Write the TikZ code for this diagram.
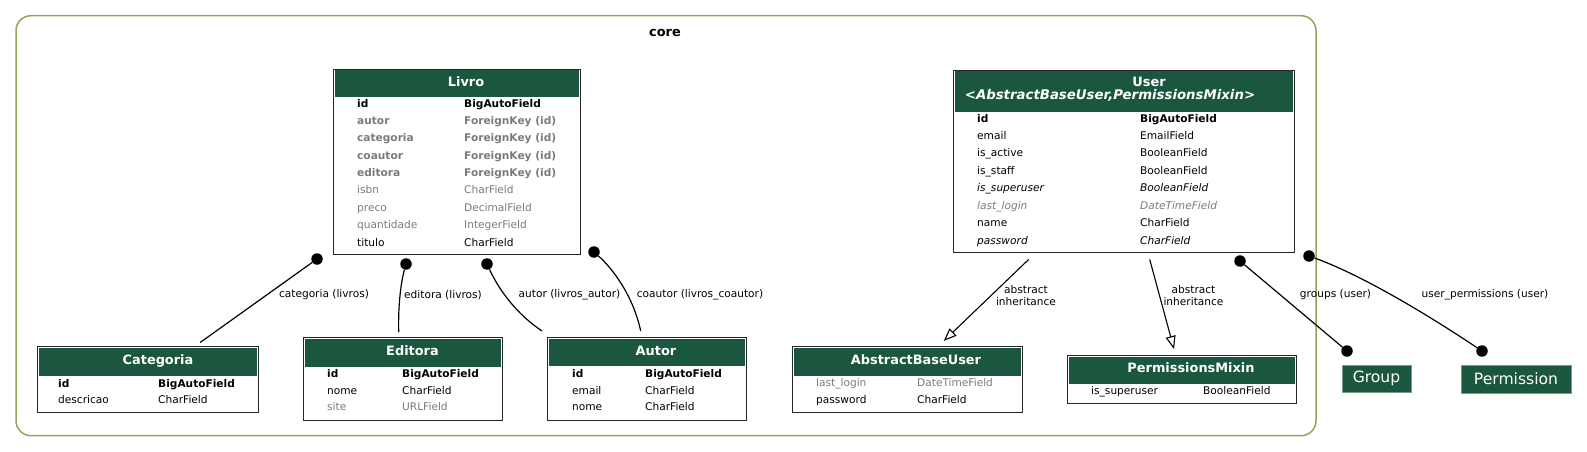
\documentclass[tikz,border=0pt]{standalone}
\usepackage{fontspec}
\setmainfont{DejaVu Sans}
\usetikzlibrary{arrows.meta,calc}
\definecolor{hdrgreen}{HTML}{1B563F}
\definecolor{fgray}{HTML}{7B7B7B}
\definecolor{clustercol}{HTML}{8DA758}
\definecolor{tblborder}{HTML}{262626}
\newcommand\fldfont{\fontsize{10.6}{11.7}\selectfont}
\newcommand\hdrfont{\fontsize{12.9}{13}\selectfont\bfseries}
\newcommand\extfont{\fontsize{15.6}{16}\selectfont}
\tikzset{
  tbl/.style={draw=tblborder, line width=1.4pt, fill=white, inner sep=0pt, anchor=north west},
  hdrtxt/.style={text=white, font=\hdrfont, anchor=base, inner sep=0pt},
  fld/.style={anchor=base west, inner sep=0pt, font=\fldfont},
  fr/.style={fld},
  fb/.style={fld, font=\fldfont\bfseries},
  fgb/.style={fld, font=\fldfont\bfseries, text=fgray},
  fg/.style={fld, text=fgray},
  fi/.style={fld, font=\fldfont\itshape},
  fgi/.style={fld, font=\fldfont\itshape, text=fgray},
  lbl/.style={font=\fldfont, inner sep=0pt, align=center},
  rel/.style={line width=1.2pt, draw=black},
  inh/.style={line width=1.1pt, draw=black, -{Triangle[open, length=13pt, width=10pt, line width=1.1pt]}},
  dotn/.style={circle, fill=black, inner sep=0pt, minimum size=11.5pt},
  ext/.style={fill=hdrgreen, draw=hdrgreen!60!white, line width=0.8pt, text=white, font=\extfont, inner sep=0pt},
}
\begin{document}
\begin{tikzpicture}[x=1pt,y=-1pt]
\useasboundingbox (0,0) rectangle (1587,452);
% cluster
\draw[clustercol, line width=1.5pt, rounded corners=15pt] (16,15.7) rectangle (1316,435.7);
\node[font=\hdrfont, inner sep=0pt, anchor=base] (core) at (665,36.5) {core};

% ---------- Livro ----------
\node[tbl, minimum width=247pt, minimum height=185pt] (livro) at (333,69) {};
\fill[hdrgreen] (334.5,70.5) rectangle (578.5,97);
\node[hdrtxt] (livro-h) at (466,86.2) {Livro};
\node[fb]  (livro-n1) at (357,107)    {id};         \node[fb]  (livro-t1) at (464,107)    {BigAutoField};
\node[fgb] (livro-n2) at (357,124.4)  {autor};      \node[fgb] (livro-t2) at (464,124.4)  {ForeignKey (id)};
\node[fgb] (livro-n3) at (357,141.75) {categoria};  \node[fgb] (livro-t3) at (464,141.75) {ForeignKey (id)};
\node[fgb] (livro-n4) at (357,159.1)  {coautor};    \node[fgb] (livro-t4) at (464,159.1)  {ForeignKey (id)};
\node[fgb] (livro-n5) at (357,176.5)  {editora};    \node[fgb] (livro-t5) at (464,176.5)  {ForeignKey (id)};
\node[fg]  (livro-n6) at (357,193.9)  {isbn};       \node[fg]  (livro-t6) at (464,193.9)  {CharField};
\node[fg]  (livro-n7) at (357,211.25) {preco};      \node[fg]  (livro-t7) at (464,211.25) {DecimalField};
\node[fg]  (livro-n8) at (357,228.6)  {quantidade}; \node[fg]  (livro-t8) at (464,228.6)  {IntegerField};
\node[fr]  (livro-n9) at (357,246)    {titulo};     \node[fr]  (livro-t9) at (464,246)    {CharField};

% ---------- User ----------
\node[tbl, minimum width=341pt, minimum height=182pt] (user) at (953,70) {};
\fill[hdrgreen] (954.5,71.5) rectangle (1292.5,112);
\node[hdrtxt] (user-h1) at (1149,86.7) {User};
\node[hdrtxt, font=\fontsize{13.3}{13.5}\selectfont\bfseries\itshape] (user-h2) at (1110,99.5) {<AbstractBaseUser,PermissionsMixin>};
\node[fb]  (user-n1) at (977,122)   {id};           \node[fb]  (user-t1) at (1140,122)   {BigAutoField};
\node[fr]  (user-n2) at (977,139.4) {email};        \node[fr]  (user-t2) at (1140,139.4) {EmailField};
\node[fr]  (user-n3) at (977,156.9) {is\_active};   \node[fr]  (user-t3) at (1140,156.9) {BooleanField};
\node[fr]  (user-n4) at (977,174.3) {is\_staff};    \node[fr]  (user-t4) at (1140,174.3) {BooleanField};
\node[fi]  (user-n5) at (977,191.7) {is\_superuser};\node[fi]  (user-t5) at (1140,191.7) {BooleanField};
\node[fgi] (user-n6) at (977,209.1) {last\_login};  \node[fgi] (user-t6) at (1140,209.1) {DateTimeField};
\node[fr]  (user-n7) at (977,226.6) {name};         \node[fr]  (user-t7) at (1140,226.6) {CharField};
\node[fi]  (user-n8) at (977,244)   {password};     \node[fi]  (user-t8) at (1140,244)   {CharField};

% ---------- Categoria ----------
\node[tbl, minimum width=221pt, minimum height=66pt] (categoria) at (37,346) {};
\fill[hdrgreen] (38.5,347.5) rectangle (256.5,376);
\node[hdrtxt] (categoria-h) at (158,364.5) {Categoria};
\node[fb] (categoria-n1) at (58,387)   {id};        \node[fb] (categoria-t1) at (158,387)   {BigAutoField};
\node[fr] (categoria-n2) at (58,403.3) {descricao}; \node[fr] (categoria-t2) at (158,403.3) {CharField};

% ---------- Editora ----------
\node[tbl, minimum width=199pt, minimum height=83pt] (editora) at (303,337) {};
\fill[hdrgreen] (304.5,338.5) rectangle (500.5,367);
\node[hdrtxt] (editora-h) at (412.5,355.2) {Editora};
\node[fb] (editora-n1) at (327,377.3) {id};   \node[fb] (editora-t1) at (402,377.3) {BigAutoField};
\node[fr] (editora-n2) at (327,394)   {nome}; \node[fr] (editora-t2) at (402,394)   {CharField};
\node[fg] (editora-n3) at (327,410.7) {site}; \node[fg] (editora-t3) at (402,410.7) {URLField};

% ---------- Autor ----------
\node[tbl, minimum width=199pt, minimum height=83pt] (autor) at (547,337) {};
\fill[hdrgreen] (548.5,338.5) rectangle (744.5,366);
\node[hdrtxt] (autor-h) at (656,355.2) {Autor};
\node[fb] (autor-n1) at (572,377.3) {id};    \node[fb] (autor-t1) at (645,377.3) {BigAutoField};
\node[fr] (autor-n2) at (572,394)   {email}; \node[fr] (autor-t2) at (645,394)   {CharField};
\node[fr] (autor-n3) at (572,410.7) {nome};  \node[fr] (autor-t3) at (645,410.7) {CharField};

% ---------- AbstractBaseUser ----------
\node[tbl, minimum width=230pt, minimum height=66pt] (abu) at (792,346) {};
\fill[hdrgreen] (793.5,347.5) rectangle (1020.5,376);
\node[hdrtxt] (abu-h) at (916,364.5) {AbstractBaseUser};
\node[fg] (abu-n1) at (816,386.3) {last\_login}; \node[fg] (abu-t1) at (917,386.3) {DateTimeField};
\node[fr] (abu-n2) at (816,403)   {password};    \node[fr] (abu-t2) at (917,403)   {CharField};

% ---------- PermissionsMixin ----------
\node[tbl, minimum width=229pt, minimum height=48pt] (pm) at (1067,355) {};
\fill[hdrgreen] (1068.5,356.5) rectangle (1294.5,384);
\node[hdrtxt] (pm-h) at (1191,372.2) {PermissionsMixin};
\node[fr] (pm-n1) at (1091,394.7) {is\_superuser}; \node[fr] (pm-t1) at (1203,394.7) {BooleanField};

% ---------- external ----------
\node[ext, minimum width=69pt, minimum height=27pt] (group) at (1376.5,378.5) {Group};
\node[ext, minimum width=110pt, minimum height=28pt] (permission) at (1516,379) {Permission};

% ---------- dots ----------
\node[dotn] (dcat) at (317,259) {};
\node[dotn] (ded)  at (406,264) {};
\node[dotn] (dau)  at (487,264) {};
\node[dotn] (dco)  at (594,252) {};
\node[dotn] (dgu)  at (1240,261) {};
\node[dotn] (dpu)  at (1309,256) {};
\node[dotn] (dgg)  at (1347,351) {};
\node[dotn] (dpp)  at (1482,351) {};

% ---------- relations ----------
\draw[rel, shorten >=6pt] (dcat) -- (categoria);
\draw[rel] (ded) .. controls (401,282) and (398,305) .. ([xshift=-4.5pt,yshift=5pt]editora.north);
\draw[rel] (dau) .. controls (500,292) and (518,315) .. ([xshift=-5pt,yshift=6pt]autor.north west);
\draw[rel] (dco) .. controls (612,268) and (633,295) .. ([xshift=-6.5pt,yshift=6pt]autor.north);
\draw[rel] (dgu) -- (dgg);
\draw[rel] (dpu) .. controls (1359,274) and (1422,311) .. (dpp);
\draw[inh] ([xshift=-95.5pt,yshift=-6pt]user.south) -- ([xshift=36pt,yshift=5pt]abu.north);
\draw[inh] ([xshift=25.5pt,yshift=-6pt]user.south) -- ([xshift=-8.2pt,yshift=6pt]pm.north);

% ---------- labels ----------
\node[lbl] (l-cat) at (324,295)   {categoria (livros)};
\node[lbl] (l-ed)  at (443,295)   {editora (livros)};
\node[lbl] (l-au)  at (569.5,295) {autor (livros\_autor)};
\node[lbl] (l-co)  at (700,295)   {coautor (livros\_coautor)};
\node[lbl] (l-in1) at (1026,295.2) {abstract\\inheritance};
\node[lbl] (l-in2) at (1193.5,295.2) {abstract\\inheritance};
\node[lbl] (l-gr)  at (1335.5,295) {groups (user)};
\node[lbl] (l-up)  at (1485,295)  {user\_permissions (user)};
\end{tikzpicture}
\end{document}
